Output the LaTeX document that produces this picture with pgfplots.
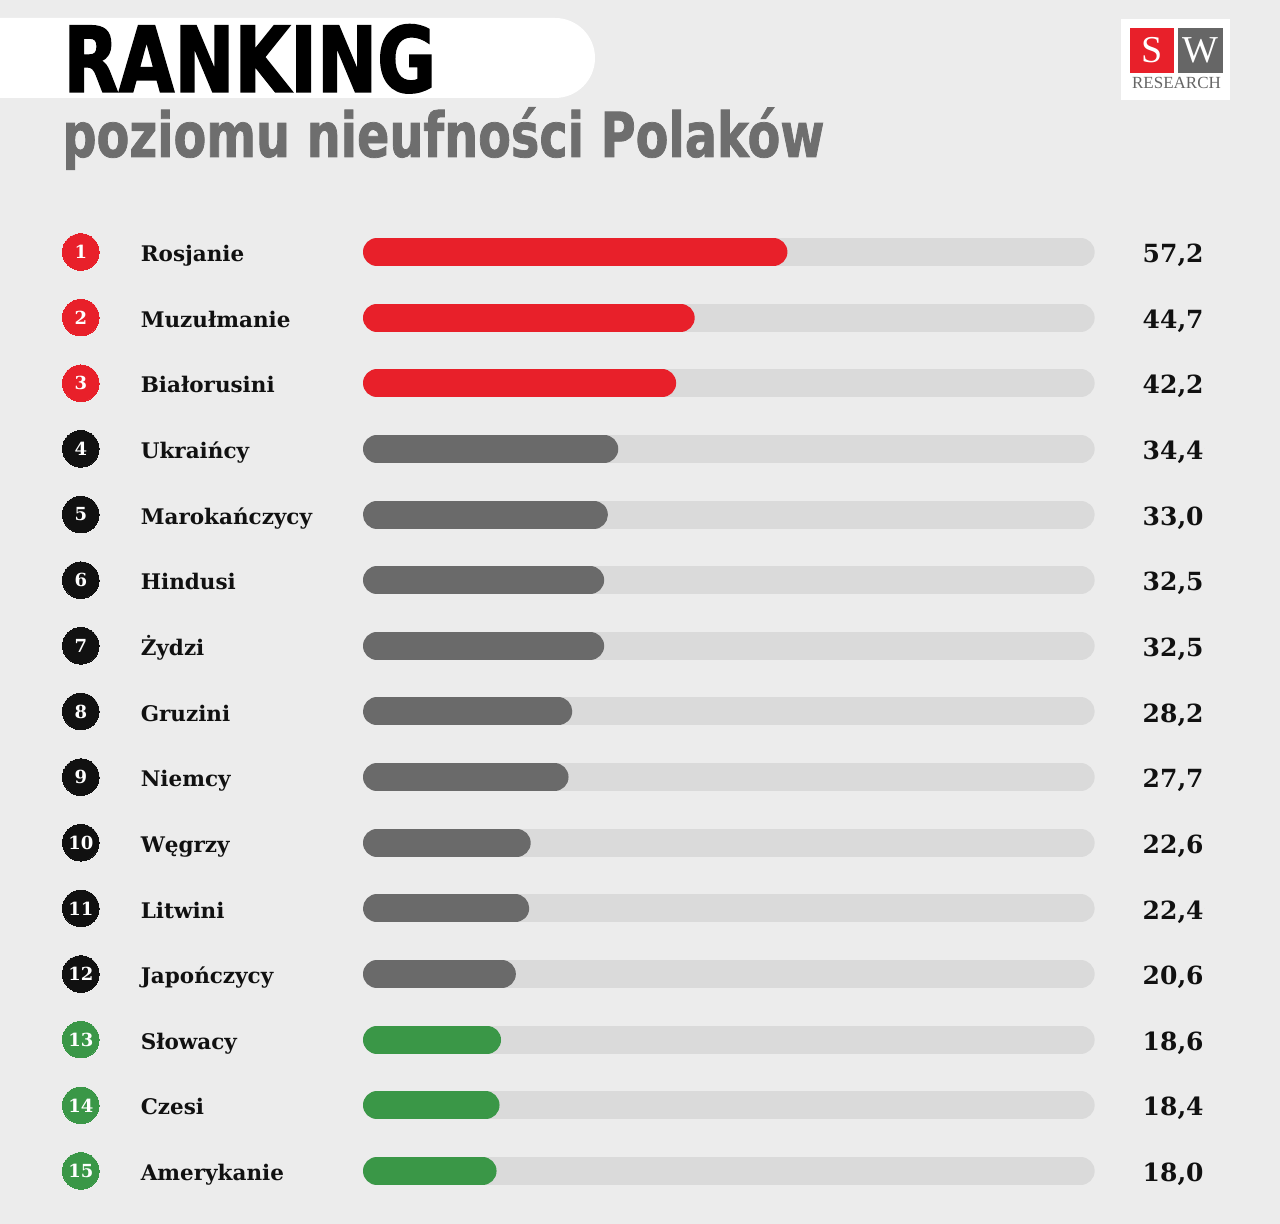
\documentclass[border=0pt]{standalone}
\usepackage{pgfplots}
\pgfplotsset{compat=1.18}
\usepackage{pgfplotstable}
\usepackage{fontspec}
\setmainfont{DejaVu Serif}
\newfontfamily\titlefont{DejaVu Sans}[FakeStretch=0.77, BoldFeatures={FakeBold=1.2}]
\newfontfamily\rankfont{DejaVu Sans}[FakeStretch=0.79, BoldFeatures={FakeBold=1.6}]
\newfontfamily\logofont{Liberation Serif}
\definecolor{bg}{HTML}{ECECEC}
\definecolor{track}{HTML}{DADADA}
\definecolor{cred}{HTML}{E8202A}
\definecolor{cgrey}{HTML}{6A6A6A}
\definecolor{cgreen}{HTML}{3A9747}
\definecolor{subgrey}{HTML}{6E6E6E}
\definecolor{cblack}{HTML}{111111}
\definecolor{logogrey}{HTML}{666666}

\pgfplotstableread{
rank value name
1 57.2 Rosjanie
2 44.7 Muzułmanie
3 42.2 Białorusini
}\redrows
\pgfplotstableread{
rank value name
4 34.4 Ukraińcy
5 33.0 Marokańczycy
6 32.5 Hindusi
7 32.5 Żydzi
8 28.2 Gruzini
9 27.7 Niemcy
10 22.6 Węgrzy
11 22.4 Litwini
12 20.6 Japończycy
}\greyrows
\pgfplotstableread{
rank value name
13 18.6 Słowacy
14 18.4 Czesi
15 18.0 Amerykanie
}\greenrows

\pgfplotsset{
  rbar/.style={line width=14pt, line cap=round, shorten <=7pt, shorten >=7pt, mark=none},
  circ/.style={only marks, mark=*, mark size=9.15pt, color=#1, mark options={fill=#1, draw=#1, line width=0pt},
    nodes near coords, point meta=explicit symbolic,
    every node near coord/.append style={anchor=center, inner sep=0pt, text=white, font=\fontsize{9}{9}\selectfont\bfseries}},
  lab/.style={only marks, mark=*, mark size=0pt, nodes near coords, point meta=explicit symbolic,
    every node near coord/.append style={anchor=base west, inner sep=0pt, yshift=-4.8pt, text=cblack, font=\fontsize{10.75}{12}\selectfont\bfseries}},
  val/.style={only marks, mark=*, mark size=0pt, point meta=explicit,
    nodes near coords={\pgfmathprintnumber[assume math mode=true, fixed, fixed zerofill, precision=1, use comma]{\pgfplotspointmeta}},
    every node near coord/.append style={anchor=base east, inner sep=0pt, yshift=-5.3pt, text=cblack, font=\fontsize{12.5}{13}\selectfont\bfseries}},
}

\begin{document}
\begin{tikzpicture}
\fill[bg] (0,0) rectangle (640pt,612pt);
\useasboundingbox (0,0) rectangle (640pt,612pt);
\begin{axis}[at={(0,0)}, anchor=south west, width=640pt, height=612pt, scale only axis, hide axis,
  xmin=-48.92, xmax=123.58, ymin=-2.839, ymax=15.808, y dir=reverse, clip=false]
% tracks
\addplot[rbar, track] coordinates {(0,1) (98.6,1)};
\addplot[rbar, track] coordinates {(0,2) (98.6,2)};
\addplot[rbar, track] coordinates {(0,3) (98.6,3)};
\addplot[rbar, track] coordinates {(0,4) (98.6,4)};
\addplot[rbar, track] coordinates {(0,5) (98.6,5)};
\addplot[rbar, track] coordinates {(0,6) (98.6,6)};
\addplot[rbar, track] coordinates {(0,7) (98.6,7)};
\addplot[rbar, track] coordinates {(0,8) (98.6,8)};
\addplot[rbar, track] coordinates {(0,9) (98.6,9)};
\addplot[rbar, track] coordinates {(0,10) (98.6,10)};
\addplot[rbar, track] coordinates {(0,11) (98.6,11)};
\addplot[rbar, track] coordinates {(0,12) (98.6,12)};
\addplot[rbar, track] coordinates {(0,13) (98.6,13)};
\addplot[rbar, track] coordinates {(0,14) (98.6,14)};
\addplot[rbar, track] coordinates {(0,15) (98.6,15)};
% bars
\addplot[rbar, cred] coordinates {(0,1) (57.2,1)};
\addplot[rbar, cred] coordinates {(0,2) (44.7,2)};
\addplot[rbar, cred] coordinates {(0,3) (42.2,3)};
\addplot[rbar, cgrey] coordinates {(0,4) (34.4,4)};
\addplot[rbar, cgrey] coordinates {(0,5) (33.0,5)};
\addplot[rbar, cgrey] coordinates {(0,6) (32.5,6)};
\addplot[rbar, cgrey] coordinates {(0,7) (32.5,7)};
\addplot[rbar, cgrey] coordinates {(0,8) (28.2,8)};
\addplot[rbar, cgrey] coordinates {(0,9) (27.7,9)};
\addplot[rbar, cgrey] coordinates {(0,10) (22.6,10)};
\addplot[rbar, cgrey] coordinates {(0,11) (22.4,11)};
\addplot[rbar, cgrey] coordinates {(0,12) (20.6,12)};
\addplot[rbar, cgreen] coordinates {(0,13) (18.6,13)};
\addplot[rbar, cgreen] coordinates {(0,14) (18.4,14)};
\addplot[rbar, cgreen] coordinates {(0,15) (18.0,15)};
% rank circles
\addplot[circ=cred] table[x expr=-38.03, y=rank, meta=rank] {\redrows};
\addplot[circ=cblack] table[x expr=-38.03, y=rank, meta=rank] {\greyrows};
\addplot[circ=cgreen] table[x expr=-38.03, y=rank, meta=rank] {\greenrows};
% names
\addplot[lab] table[x expr=-30.0, y=rank, meta=name] {\redrows};
\addplot[lab] table[x expr=-30.0, y=rank, meta=name] {\greyrows};
\addplot[lab] table[x expr=-30.0, y=rank, meta=name] {\greenrows};
% values
\addplot[val] table[x expr=113.34, y=rank, meta=value] {\redrows};
\addplot[val] table[x expr=113.34, y=rank, meta=value] {\greyrows};
\addplot[val] table[x expr=113.34, y=rank, meta=value] {\greenrows};
\end{axis}
% title
\fill[white, rounded corners=20pt] (-30pt,603pt) rectangle (297.5pt,563pt);
\node[anchor=base west, inner sep=0pt, text=black, font=\rankfont\bfseries\fontsize{45.5}{45.5}\selectfont] at (31.5pt,566pt) {RANKING};
\node[anchor=base west, inner sep=0pt, text=subgrey, font=\titlefont\bfseries\fontsize{31}{31}\selectfont] at (31pt,533.5pt) {poziomu nieufności Polaków};
% logo
\fill[white] (560.5pt,602.5pt) rectangle (615pt,562pt);
\fill[cred] (565pt,598pt) rectangle (587pt,575.5pt);
\fill[logogrey] (589pt,598pt) rectangle (611.5pt,575.5pt);
\node[text=white, font=\logofont\fontsize{19}{19}\selectfont, inner sep=0pt] at (576pt,586.75pt) {S};
\node[text=white, font=\logofont\fontsize{19}{19}\selectfont, inner sep=0pt] at (600.25pt,586.75pt) {W};
\node[anchor=base, text=logogrey, font=\logofont\fontsize{8.5}{9}\selectfont, inner sep=0pt] at (588.25pt,567.5pt) {RESEARCH};
\end{tikzpicture}
\end{document}
